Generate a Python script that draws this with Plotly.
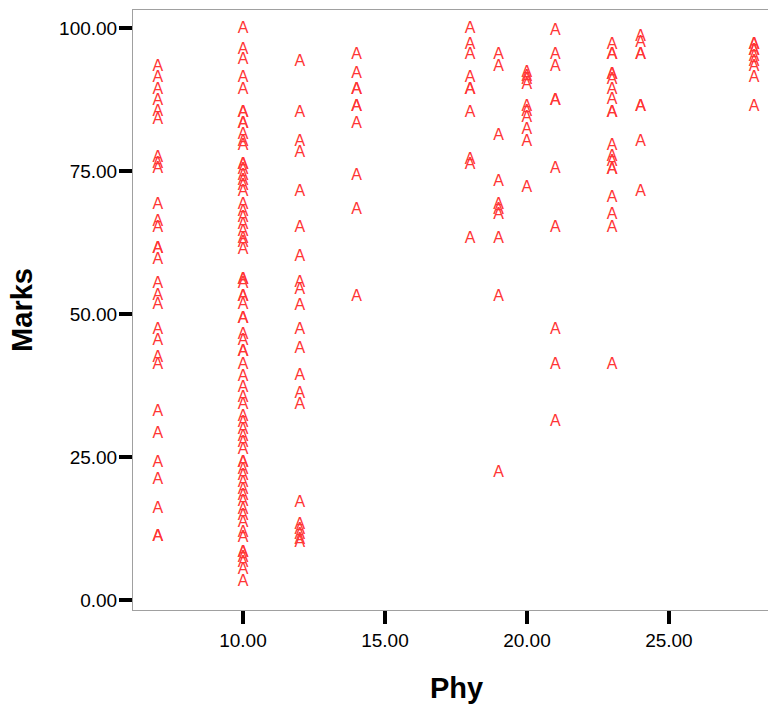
import plotly.graph_objects as go

# Phy value for each group and the Marks observed at that Phy value
phy_7 = [93.2, 91.2, 89.2, 87.3, 85.4, 83.9, 77.2, 76.2, 75.3, 69.1, 66.1, 65.0, 61.3, 61.3,
         59.4, 55.2, 53.2, 51.6, 47.2, 45.2, 42.3, 41.1, 32.9, 29.0, 23.9, 21.0, 15.9, 11.1, 11.1]
phy_10 = [99.9, 96.2, 94.4, 91.2, 89.2, 85.1, 85.1, 83.3, 83.3, 81.3, 80.1, 79.3, 76.0, 76.0,
          75.2, 74.2, 73.3, 72.3, 71.4, 69.1, 67.9, 66.7, 65.6, 64.4, 63.2, 62.4, 61.2, 55.9,
          55.9, 55.2, 53.0, 53.0, 51.6, 49.2, 49.2, 46.3, 45.2, 43.4, 43.4, 41.1, 39.0, 37.0,
          35.3, 34.1, 32.0, 30.9, 29.7, 28.5, 27.4, 26.2, 23.9, 23.9, 22.7, 21.6, 20.4, 19.2,
          18.1, 17.2, 15.7, 14.6, 13.4, 11.7, 10.8, 8.2, 8.2, 7.3, 6.4, 5.2, 3.2]
phy_12 = [94.1, 85.1, 80.1, 78.1, 71.4, 65.0, 60.0, 55.4, 54.2, 51.4, 47.2, 43.8, 39.2, 36.0,
          34.1, 16.9, 13.1, 12.2, 11.4, 10.5, 9.9]
phy_14 = [95.3, 92.0, 89.2, 89.2, 86.2, 86.2, 83.2, 74.1, 68.1, 53.0]
phy_18 = [99.9, 97.0, 95.3, 91.2, 89.2, 89.2, 85.1, 77.0, 76.0, 63.2]
phy_19 = [95.3, 93.2, 81.1, 73.1, 69.1, 68.2, 67.3, 63.2, 53.0, 22.2]
phy_20 = [92.1, 91.5, 90.9, 90.0, 86.2, 85.4, 84.2, 82.2, 80.1, 72.0]
phy_21 = [99.4, 95.3, 93.2, 87.3, 87.3, 75.3, 65.0, 47.2, 41.1, 31.2]
phy_23 = [97.0, 95.3, 95.3, 91.8, 91.8, 90.9, 89.2, 87.4, 85.1, 85.1, 79.3, 77.5, 76.6,
          75.2, 75.2, 70.2, 67.3, 65.0, 41.1]
phy_24 = [98.5, 97.3, 95.3, 95.3, 86.2, 86.2, 80.1, 71.4]
phy_28 = [97.0, 97.0, 95.9, 95.9, 95.0, 94.1, 93.2, 91.2, 86.2]

groups = {7: phy_7, 10: phy_10, 12: phy_12, 14: phy_14, 18: phy_18, 19: phy_19,
          20: phy_20, 21: phy_21, 23: phy_23, 24: phy_24, 28: phy_28}

x_ticks = [10, 15, 20, 25]
y_ticks = [0, 25, 50, 75, 100]

xs, ys = [], []
for p, marks in groups.items():
    xs.extend([p] * len(marks))
    ys.extend(marks)

fig = go.Figure(go.Scatter(
    x=xs, y=ys, mode="text", text=["A"] * len(xs),
    textposition="middle center",
    textfont=dict(family="Liberation Sans, Arial, sans-serif", size=16, color="#ff3535"),
    hoverinfo="x+y", showlegend=False,
))

font = "Liberation Sans, Arial, sans-serif"
fig.update_layout(
    width=768, height=705,
    margin=dict(l=133, r=0, t=10, b=95),
    paper_bgcolor="white", plot_bgcolor="white",
    font=dict(family=font, color="black"),
    xaxis=dict(
        range=[6.127, 28.49], tickvals=x_ticks, tickformat=".2f",
        showgrid=False, zeroline=False,
        showline=True, linecolor="#a0a0a0", linewidth=1, mirror=True,
        ticks="outside", ticklen=13, tickwidth=4, tickcolor="black",
        tickfont=dict(size=19, family=font, color="black"),
    ),
    yaxis=dict(
        range=[-1.75, 103.15], tickvals=y_ticks, tickformat=".2f",
        showgrid=False, zeroline=False,
        showline=True, linecolor="#a0a0a0", linewidth=1, mirror=False,
        ticks="outside", ticklen=13, tickwidth=4, tickcolor="black",
        tickfont=dict(size=19, family=font, color="black"),
        ticklabelstandoff=-2,
    ),
    annotations=[
        dict(text="<b>Phy</b>", xref="paper", yref="paper", x=0.51, y=-0.13,
             xanchor="center", yanchor="middle", showarrow=False,
             font=dict(size=29, family=font, color="black")),
        dict(text="<b>Marks</b>", xref="paper", yref="paper", x=-0.175, y=0.5,
             xanchor="center", yanchor="middle", showarrow=False, textangle=-90,
             font=dict(size=29, family=font, color="black")),
    ],
)

fig.write_html("out.html")
